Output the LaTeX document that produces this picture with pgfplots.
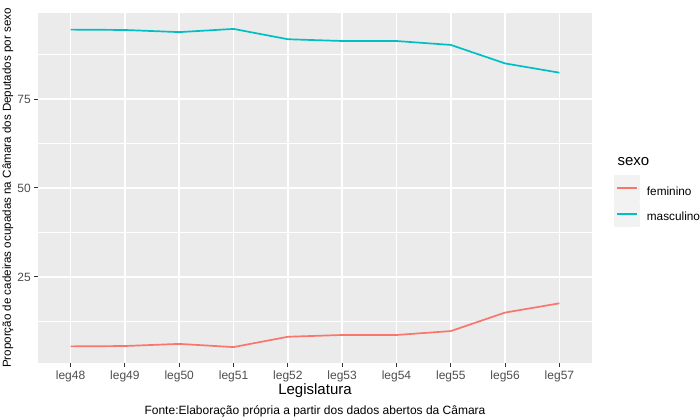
\documentclass[border=0pt]{standalone}
\usepackage{pgfplots}
\pgfplotsset{compat=1.18}
\usepackage{fontspec}
\setmainfont{Liberation Sans}
\definecolor{fem}{HTML}{F8766D}
\definecolor{masc}{HTML}{00BFC4}
\definecolor{panelbg}{HTML}{EBEBEB}
\definecolor{keybg}{HTML}{F2F2F2}
\definecolor{greyA}{HTML}{4D4D4D}
\definecolor{greyB}{HTML}{333333}
\begin{document}
\begin{tikzpicture}
\useasboundingbox (0,0) rectangle (700bp,420bp);
\begin{axis}[
  at={(38bp,57bp)}, anchor=south west,
  scale only axis, width=554bp, height=350bp,
  xmin=-0.6, xmax=9.6, ymin=0.83, ymax=99.17,
  xtick={0,1,2,3,4,5,6,7,8,9},
  xticklabels={leg48,leg49,leg50,leg51,leg52,leg53,leg54,leg55,leg56,leg57},
  ytick={25,50,75}, minor ytick={12.5,37.5,62.5,87.5},
  grid=both,
  major grid style={white, line width=1.5bp},
  minor grid style={white, line width=0.75bp},
  axis background/.style={fill=panelbg},
  axis line style={draw=none},
  tick align=outside, major tick length=3.8bp, minor tick length=0pt,
  tick style={greyB, line width=1bp},
  xtick pos=left, ytick pos=left,
  ticklabel style={font=\fontsize{12bp}{14bp}\selectfont, text=greyA},
  /pgf/number format/assume math mode=true,
  xlabel={Legislatura},
  ylabel={Proporção de cadeiras ocupadas na Câmara dos Deputados por sexo},
  xlabel style={at={(axis description cs:0.5,-0.08)}, anchor=center, font=\fontsize{15bp}{18bp}\selectfont},
  ylabel style={at={(axis description cs:-0.0542,0.5)}, anchor=center, rotate=0, font=\fontsize{11.6bp}{14bp}\selectfont},
  legend style={at={(axis description cs:1.0397,0.5371)}, anchor=north west, draw=none, fill=none,
    inner sep=0pt, row sep=0pt, column sep=7bp,
    nodes={inner sep=0pt, font=\fontsize{11.8bp}{14bp}\selectfont}},
  legend cell align=left,
  legend image code/.code={\fill[keybg] (0bp,-8.5bp) rectangle (24bp,15.5bp);
    \draw[#1] (2bp,3.5bp) -- (22bp,3.5bp);},
]
\addplot[fem, line width=1.7bp, line join=round, mark=none] coordinates {
(0,5.5) (1,5.6) (2,6.2) (3,5.3) (4,8.2) (5,8.7) (6,8.7) (7,9.8) (8,15.0) (9,17.6)};
\addlegendentry{feminino}
\addplot[masc, line width=1.7bp, line join=round, mark=none] coordinates {
(0,94.5) (1,94.4) (2,93.8) (3,94.7) (4,91.8) (5,91.3) (6,91.3) (7,90.2) (8,85.0) (9,82.4)};
\addlegendentry{masculino}
\end{axis}
\node[anchor=west, font=\fontsize{15bp}{18bp}\selectfont] at (614bp,258bp) {sexo};
\node[font=\fontsize{12bp}{14bp}\selectfont] at (315bp,9bp) {Fonte:Elaboração própria a partir dos dados abertos da Câmara};
\end{tikzpicture}
\end{document}
